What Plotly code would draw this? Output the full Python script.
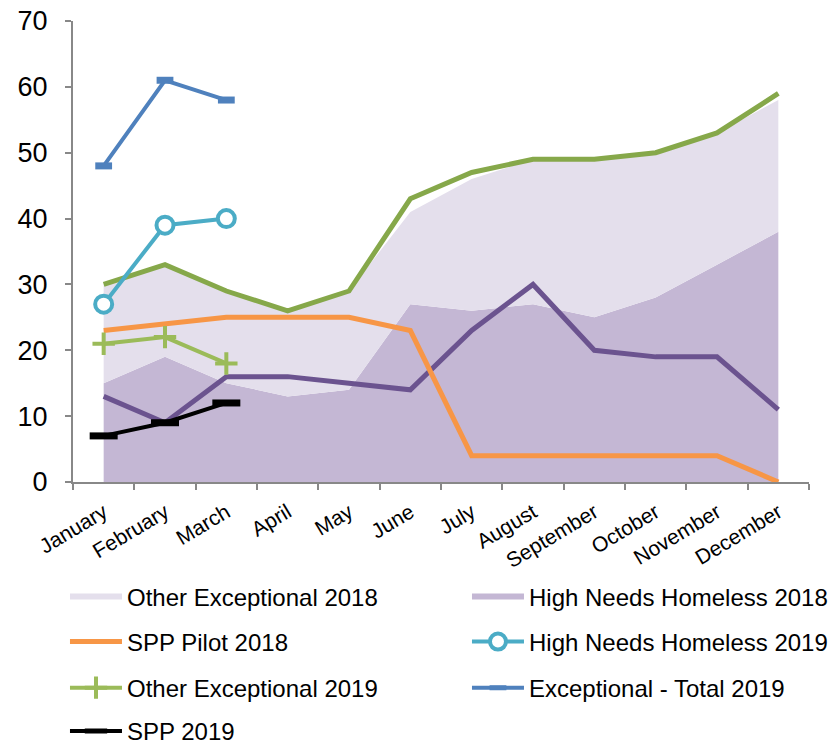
import plotly.graph_objects as go

months = ["January", "February", "March", "April", "May", "June", "July",
          "August", "September", "October", "November", "December"]
months_2019 = months[:3]

high_needs_homeless_2018 = [15, 19, 15, 13, 14, 27, 26, 27, 25, 28, 33, 38]
other_exceptional_2018 = [15, 14, 14, 13, 15, 14, 20, 22, 24, 22, 20, 20]
exceptional_total_2018 = [30, 33, 29, 26, 29, 43, 47, 49, 49, 50, 53, 59]
spp_pilot_2018 = [23, 24, 25, 25, 25, 23, 4, 4, 4, 4, 4, 0]
other_line_2018 = [13, 9, 16, 16, 15, 14, 23, 30, 20, 19, 19, 11]

high_needs_homeless_2019 = [27, 39, 40]
other_exceptional_2019 = [21, 22, 18]
exceptional_total_2019 = [48, 61, 58]
spp_2019 = [7, 9, 12]

y_ticks = [0, 10, 20, 30, 40, 50, 60, 70]

FONT = "Arial, Liberation Sans, sans-serif"

fig = go.Figure()

# stacked areas
fig.add_trace(go.Scatter(
    x=months, y=high_needs_homeless_2018, name="High Needs Homeless 2018",
    stackgroup="s", mode="none", fillcolor="#C4B7D4", legend="legend",
    legendrank=2))
fig.add_trace(go.Scatter(
    x=months, y=other_exceptional_2018, name="Other Exceptional 2018",
    stackgroup="s", mode="none", fillcolor="#E4DFEC", legend="legend",
    legendrank=1))

# 2018 lines
fig.add_trace(go.Scatter(
    x=months, y=other_line_2018, mode="lines", showlegend=False,
    line=dict(color="#6B538F", width=5)))
fig.add_trace(go.Scatter(
    x=months, y=spp_pilot_2018, name="SPP Pilot 2018", mode="lines",
    line=dict(color="#F79646", width=5), legend="legend2", legendrank=1))
fig.add_trace(go.Scatter(
    x=months, y=exceptional_total_2018, mode="lines", showlegend=False,
    line=dict(color="#86A84A", width=5)))

# 2019 lines
fig.add_trace(go.Scatter(
    x=months_2019, y=other_exceptional_2019, name="Other Exceptional 2019",
    mode="lines+markers", line=dict(color="#9BBB59", width=4),
    marker=dict(symbol="cross-thin", size=16,
                line=dict(color="#9BBB59", width=4)),
    legend="legend3", legendrank=1))
fig.add_trace(go.Scatter(
    x=months_2019, y=high_needs_homeless_2019, name="High Needs Homeless 2019",
    mode="lines+markers", line=dict(color="#4BACC6", width=4),
    marker=dict(symbol="circle", size=17, color="white",
                line=dict(color="#4BACC6", width=4)),
    legend="legend2", legendrank=2))
fig.add_trace(go.Scatter(
    x=months_2019, y=exceptional_total_2019, name="Exceptional - Total 2019",
    mode="lines+markers", line=dict(color="#4F81BD", width=4),
    marker=dict(symbol="line-ew", size=12,
                line=dict(color="#4F81BD", width=7)),
    legend="legend3", legendrank=2))
fig.add_trace(go.Scatter(
    x=months_2019, y=spp_2019, name="SPP 2019",
    mode="lines+markers", line=dict(color="#000000", width=4),
    marker=dict(symbol="line-ew", size=20,
                line=dict(color="#000000", width=7)),
    legend="legend4", legendrank=1))

def leg(ypos):
    return dict(orientation="h", x=-0.0109, xanchor="left", y=ypos,
                yanchor="middle", font=dict(family=FONT, size=24, color="black"),
                entrywidth=335, entrywidthmode="pixels", itemwidth=52,
                bgcolor="rgba(0,0,0,0)", traceorder="normal")

fig.update_layout(
    width=832, height=736,
    margin=dict(l=65, r=31, t=13, b=262, autoexpand=False),
    paper_bgcolor="white", plot_bgcolor="white",
    font=dict(family=FONT, color="black"),
    legend=leg(-0.2495),
    legend2=leg(-0.347),
    legend3=leg(-0.447),
    legend4=leg(-0.541),
    xaxis=dict(
        type="category", categoryorder="array", categoryarray=months,
        range=[-0.5, 11.5], showgrid=False, showline=True,
        linecolor="#888888", linewidth=2, ticks="outside",
        tickson="boundaries", ticklen=6, tickwidth=2, tickcolor="#888888",
        tickangle=-31, ticklabelstandoff=8, ticklabeloverflow="allow",
        tickfont=dict(family=FONT, size=21, color="black"),
        zeroline=False, fixedrange=True, automargin=False),
    yaxis=dict(
        range=[0, 70], tickvals=y_ticks, showgrid=False, showline=True,
        linecolor="#888888", linewidth=2, ticks="outside", ticklen=6,
        tickwidth=2, tickcolor="#888888", ticklabelstandoff=12,
        ticklabeloverflow="allow",
        tickfont=dict(family=FONT, size=27, color="black"),
        zeroline=False, fixedrange=True, automargin=False),
)

fig.write_html("out.html")
